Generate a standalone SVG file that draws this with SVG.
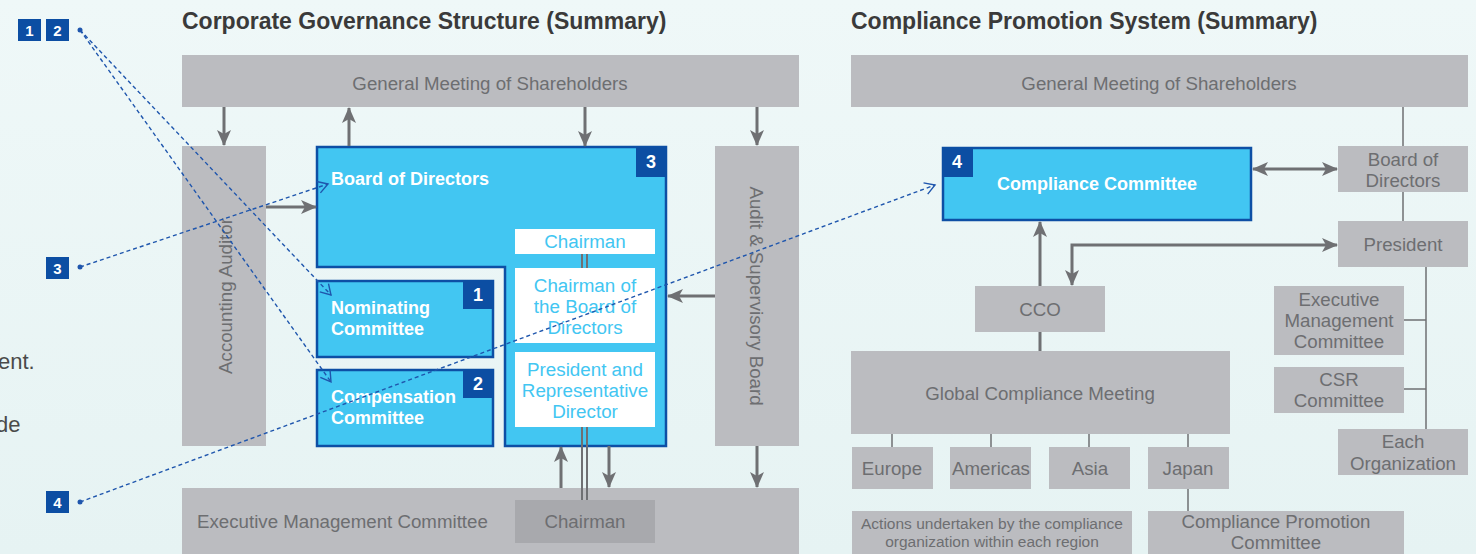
<svg xmlns="http://www.w3.org/2000/svg" width="1476" height="554" viewBox="0 0 1476 554">
<defs>
<linearGradient id="bg" x1="0" y1="0" x2="0" y2="1">
<stop offset="0" stop-color="#eff8f8"/>
<stop offset="1" stop-color="#e6f3f3"/>
</linearGradient>
<marker id="ah" markerUnits="userSpaceOnUse" markerWidth="16" markerHeight="14" viewBox="0 0 16 14" refX="15" refY="7" orient="auto-start-reverse">
<path d="M0,0 L16,7 L0,14 L4,7 Z" fill="#6f7073"/>
</marker>
<marker id="oh" markerUnits="userSpaceOnUse" markerWidth="14" markerHeight="14" viewBox="-12 -7 14 14" refX="0" refY="0" orient="auto">
<path d="M-10,-6 L0,0 L-10,6" fill="none" stroke="#1f56ad" stroke-width="1.4"/>
</marker>
</defs>
<style>
.g{fill:#bbbcc0}
.gd{fill:#a8a9ad}
.gt{font-family:"Liberation Sans",Arial,sans-serif;font-size:18.7px;fill:#6d6e71}
.gts{font-family:"Liberation Sans",Arial,sans-serif;font-size:15.5px;fill:#6d6e71}
.m{text-anchor:middle}
.bl{fill:#42c6f2;stroke:#0d4fa5;stroke-width:2.5}
.wt{font-family:"Liberation Sans",Arial,sans-serif;font-size:18px;fill:#ffffff;font-weight:bold}
.wb{fill:#ffffff}
.ct{font-family:"Liberation Sans",Arial,sans-serif;font-size:18.8px;fill:#42c6f2;text-anchor:middle}
.bd{fill:#0c4ea3}
.bn{font-family:"Liberation Sans",Arial,sans-serif;font-size:18px;font-weight:bold;fill:#ffffff;text-anchor:middle}
.bns{font-family:"Liberation Sans",Arial,sans-serif;font-size:15px;font-weight:bold;fill:#ffffff;text-anchor:middle}
.ttl{font-family:"Liberation Sans",Arial,sans-serif;font-size:23px;font-weight:bold;fill:#3a3a3a}
.arr{stroke:#6f7073;stroke-width:3;fill:none}
.thin{stroke:#6f7073;stroke-width:1.5;fill:none}
.dl{stroke:#1f56ad;stroke-width:1.4;stroke-dasharray:4 3;fill:none}
.side{font-family:"Liberation Sans",Arial,sans-serif;font-size:22px;fill:#4a4a4a}
</style>
<rect x="0" y="0" width="1476" height="554" fill="url(#bg)"/>

<g id="titles">
<text class="ttl" x="182" y="29">Corporate Governance Structure (Summary)</text>
<text class="ttl" x="851" y="29">Compliance Promotion System (Summary)</text>
</g>

<g id="side-text">
<text class="side" x="-2" y="369">ent.</text>
<text class="side" x="-4" y="432">de</text>
</g>

<!-- Left diagram nodes -->
<g id="gm-left">
<rect class="g" x="182" y="55" width="617" height="52"/>
<text class="gt m" x="490" y="90">General Meeting of Shareholders</text>
</g>
<g id="accounting-auditor">
<rect class="g" x="182" y="146" width="84" height="300"/>
<text class="gt m" transform="translate(232,296) rotate(-90)">Accounting Auditor</text>
</g>
<g id="audit-board">
<rect class="g" x="715" y="146" width="84" height="300"/>
<text class="gt m" transform="translate(750,296) rotate(90)">Audit &amp; Supervisory Board</text>
</g>
<g id="exec-committee-left">
<rect class="g" x="182" y="488" width="617" height="70"/>
<text class="gt" x="197" y="528">Executive Management Committee</text>
</g>
<g id="exec-chairman">
<rect class="gd" x="515" y="500" width="140" height="43"/>
<text class="gt m" x="585" y="528">Chairman</text>
</g>
<g id="board-of-directors">
<path class="bl" d="M317,147 H666 V446 H505 V267 H317 Z"/>
<rect class="bd" x="636" y="147" width="31" height="30"/>
<text class="bn" x="651" y="168">3</text>
<text class="wt" x="331" y="185">Board of Directors</text>
</g>
<g id="nominating">
<rect class="bl" x="317" y="281" width="176" height="76"/>
<rect class="bd" x="463" y="280" width="31" height="29"/>
<text class="bn" x="478" y="301">1</text>
<text class="wt" x="331" y="314">Nominating</text>
<text class="wt" x="331" y="335">Committee</text>
</g>
<g id="compensation">
<rect class="bl" x="317" y="370" width="176" height="76"/>
<rect class="bd" x="463" y="369" width="31" height="29"/>
<text class="bn" x="478" y="390">2</text>
<text class="wt" x="331" y="403">Compensation</text>
<text class="wt" x="331" y="424">Committee</text>
</g>
<g id="chairman">
<rect class="wb" x="515" y="229" width="140" height="25"/>
<text class="ct" x="585" y="248">Chairman</text>
</g>
<g id="chairman-board">
<rect class="wb" x="515" y="268" width="140" height="75"/>
<text class="ct" x="585" y="292">Chairman of</text>
<text class="ct" x="585" y="313">the Board of</text>
<text class="ct" x="585" y="334">Directors</text>
</g>
<g id="president-rep">
<rect class="wb" x="515" y="352" width="140" height="75"/>
<text class="ct" x="585" y="376">President and</text>
<text class="ct" x="585" y="397">Representative</text>
<text class="ct" x="585" y="418">Director</text>
</g>

<!-- Right diagram nodes -->
<g id="gm-right">
<rect class="g" x="851" y="55" width="617" height="52"/>
<text class="gt m" x="1159" y="90">General Meeting of Shareholders</text>
</g>
<g id="compliance-committee">
<rect class="bl" x="943" y="148" width="308" height="72"/>
<rect class="bd" x="942" y="147" width="31" height="30"/>
<text class="bn" x="957" y="168">4</text>
<text class="wt m" x="1097" y="190">Compliance Committee</text>
</g>
<g id="bod-right">
<rect class="g" x="1338" y="146" width="130" height="46"/>
<text class="gt m" x="1403" y="166">Board of</text>
<text class="gt m" x="1403" y="187">Directors</text>
</g>
<g id="president">
<rect class="g" x="1338" y="221" width="130" height="46"/>
<text class="gt m" x="1403" y="251">President</text>
</g>
<g id="exec-committee-right">
<rect class="g" x="1274" y="286" width="130" height="69"/>
<text class="gt m" x="1339" y="306">Executive</text>
<text class="gt m" x="1339" y="327">Management</text>
<text class="gt m" x="1339" y="348">Committee</text>
</g>
<g id="csr">
<rect class="g" x="1274" y="367" width="130" height="46"/>
<text class="gt m" x="1339" y="386">CSR</text>
<text class="gt m" x="1339" y="407">Committee</text>
</g>
<g id="each-org">
<rect class="g" x="1338" y="429" width="130" height="46"/>
<text class="gt m" x="1403" y="448">Each</text>
<text class="gt m" x="1403" y="470">Organization</text>
</g>
<g id="cco">
<rect class="g" x="975" y="286" width="130" height="46"/>
<text class="gt m" x="1040" y="316">CCO</text>
</g>
<g id="global-meeting">
<rect class="g" x="851" y="351" width="379" height="83"/>
<text class="gt m" x="1040" y="400">Global Compliance Meeting</text>
</g>
<g id="europe">
<rect class="g" x="852" y="447" width="81" height="42"/>
<text class="gt m" x="892" y="475">Europe</text>
</g>
<g id="americas">
<rect class="g" x="950" y="447" width="81" height="42"/>
<text class="gt m" x="991" y="475">Americas</text>
</g>
<g id="asia">
<rect class="g" x="1049" y="447" width="81" height="42"/>
<text class="gt m" x="1090" y="475">Asia</text>
</g>
<g id="japan">
<rect class="g" x="1148" y="447" width="81" height="42"/>
<text class="gt m" x="1188" y="475">Japan</text>
</g>
<g id="actions">
<rect class="g" x="852" y="511" width="280" height="47"/>
<text class="gts m" x="992" y="529">Actions undertaken by the compliance</text>
<text class="gts m" x="992" y="547">organization within each region</text>
</g>
<g id="cpc">
<rect class="g" x="1148" y="511" width="256" height="47"/>
<text class="gt m" x="1276" y="528">Compliance Promotion</text>
<text class="gt m" x="1276" y="549">Committee</text>
</g>

<!-- Connectors -->
<g id="connectors">
<path class="arr" d="M224,107 V145" marker-end="url(#ah)"/>
<path class="arr" d="M349,146 V108" marker-end="url(#ah)"/>
<path class="arr" d="M585,107 V146" marker-end="url(#ah)"/>
<path class="arr" d="M757,107 V145" marker-end="url(#ah)"/>
<path class="arr" d="M266,207 H316" marker-end="url(#ah)"/>
<path class="arr" d="M715,296 H668" marker-end="url(#ah)"/>
<path class="arr" d="M561,488 V447" marker-end="url(#ah)"/>
<path class="arr" d="M609,446 V487" marker-end="url(#ah)"/>
<path class="arr" d="M757,446 V487" marker-end="url(#ah)"/>
<path d="M582,254 V268 M587,254 V268 M582,427 V500 M587,427 V500" stroke="#6f7073" stroke-width="2" fill="none"/>

<path class="arr" d="M1253,169 H1337" marker-start="url(#ah)" marker-end="url(#ah)"/>
<path class="arr" d="M1040,286 V222" marker-end="url(#ah)"/>
<path class="arr" d="M1337,245 H1072 V285" marker-start="url(#ah)" marker-end="url(#ah)"/>
<path class="arr" d="M1040,332 V351"/>
<path class="thin" d="M1403,107 V146 M1403,192 V221 M1426,267 V429 M1404,320 H1426 M1404,389 H1426"/>
<path class="thin" d="M892,434 V447 M991,434 V447 M1089,434 V447 M1188,434 V447 M1188,489 V511"/>

<path class="dl" d="M80,30 L331,295" marker-end="url(#oh)"/>
<path class="dl" d="M80,30 L331,382" marker-end="url(#oh)"/>
<path class="dl" d="M80,267 L328,184" marker-end="url(#oh)"/>
<path class="dl" d="M80,502 L935,185" marker-end="url(#oh)"/>
<circle cx="80" cy="30" r="2.5" fill="#1f56ad"/>
<circle cx="80" cy="267" r="2.5" fill="#1f56ad"/>
<circle cx="80" cy="502" r="2.5" fill="#1f56ad"/>
</g>

<g id="badges">
<rect class="bd" x="18" y="19" width="23" height="22"/>
<text class="bns" x="29.5" y="35.5">1</text>
<rect class="bd" x="46" y="19" width="23" height="22"/>
<text class="bns" x="57.5" y="35.5">2</text>
<rect class="bd" x="46" y="257" width="23" height="22"/>
<text class="bns" x="57.5" y="273.5">3</text>
<rect class="bd" x="46" y="491" width="23" height="22"/>
<text class="bns" x="57.5" y="507.5">4</text>
</g>
</svg>
